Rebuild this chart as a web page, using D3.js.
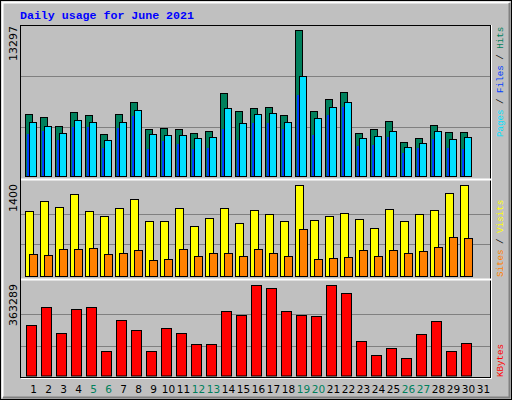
<!DOCTYPE html>
<html><head><meta charset="utf-8">
<script src="https://cdn.jsdelivr.net/npm/d3@7"></script>
<style>body{margin:0;background:#fff}</style>
</head><body>
<script>
var days = d3.range(1, 32);
var weekend = [5, 6, 12, 13, 19, 20, 26, 27];
var hits = [5625,5354,4542,5806,5535,3820,5625,6708,4272,4362,4272,3911,4091,7520,5896,6167,6257,5535,13297,5896,6979,7611,3911,4272,4994,3098,3459,4633,4001,4001];
var files = [4903,4542,3911,5084,4903,3279,4903,5986,3820,3730,3730,3459,3549,6167,4813,5625,5715,4903,9054,5264,6257,6708,3459,3640,4091,2647,3008,4091,3369,3549];
var pages = [3820,4091,3279,4452,4452,2557,4362,5445,2467,3189,2918,2467,2557,4272,3279,4813,4813,4272,7340,3730,5535,6257,2737,2828,3549,2106,2557,3369,2557,2467];
var visits = [989,1141,1050,1248,989,913,1035,1172,837,837,1035,761,883,1035,806,1004,943,837,1385,852,913,959,867,730,1020,837,943,1004,1263,1400];
var sites = [335,320,411,411,426,335,350,396,243,259,411,304,350,350,304,411,350,304,715,259,274,289,396,304,396,350,380,441,594,578];
var kbytes = [203600,275460,171660,267470,275460,99800,223560,183640,99800,191620,171660,123760,123760,255500,243520,363289,351310,255500,243520,239530,363289,327360,139720,83830,107790,67870,167670,219570,99800,127750];

var svg = d3.select('body').append('svg').attr('width', 512).attr('height', 400);
var mono = 'Liberation Mono, DejaVu Sans Mono, monospace';

// frame
svg.append('rect').attr('x', 0).attr('y', 0).attr('width', 512).attr('height', 400).attr('fill', '#c0c0c0');
svg.append('rect').attr('x', 0.5).attr('y', 0.5).attr('width', 511).attr('height', 399).attr('fill', 'none').attr('stroke', '#000');
svg.append('path').attr('d', 'M2.5,397.5V2.5H509.5').attr('fill', 'none').attr('stroke', '#fff').attr('stroke-width', 2);
svg.append('path').attr('d', 'M3,397.5H509.5V3').attr('fill', 'none').attr('stroke', '#808080').attr('stroke-width', 2);

svg.append('text').attr('x', 20).attr('y', 19).attr('fill', '#0000ff')
  .attr('font-family', mono).attr('font-weight', 'bold').attr('font-size', 11.6)
  .text('Daily usage for June 2021');

var x = d3.scaleBand().domain(days).range([24, 489]).padding(0);

// panel box
svg.append('rect').attr('x', 20.5).attr('y', 25.5).attr('width', 470).attr('height', 352)
  .attr('fill', 'none').attr('stroke', '#000');
svg.append('path').attr('d', 'M21,378.5H491.5V25').attr('fill', 'none').attr('stroke', '#fff');
svg.append('path').attr('d', 'M21,179.5H491M21,279.5H491').attr('stroke', '#fff').attr('stroke-width', 2);

function panel(base, top, max, grids) {
  var y = d3.scaleLinear().domain([0, max]).range([base, top]);
  grids.forEach(function (g) {
    svg.append('line').attr('x1', 21).attr('x2', 490)
      .attr('y1', Math.round(y(max * g)) + 0.5).attr('y2', Math.round(y(max * g)) + 0.5)
      .attr('stroke', '#808080');
  });
  return y;
}

function bars(data, y, dx, w, fill) {
  svg.append('g').selectAll('rect').data(data).enter().append('rect')
    .attr('x', function (d, i) { return x(i + 1) + dx + 0.5; })
    .attr('y', function (d) { return Math.round(y(d)) + 0.5; })
    .attr('width', w)
    .attr('height', function (d) { return y.range()[0] - Math.round(y(d)); })
    .attr('fill', fill).attr('stroke', '#000');
}

var y1 = panel(176, 29.5, 13297, [0.333, 0.68]);
bars(hits, y1, 1, 7, '#00805c');
bars(files, y1, 5, 7, '#00e0ff');
svg.append('g').selectAll('rect').data(pages).enter().append('rect')
  .attr('x', function (d, i) { return x(i + 1) + 3; })
  .attr('y', function (d) { return Math.round(y1(d)); })
  .attr('width', 2).attr('height', function (d) { return 176 - Math.round(y1(d)); })
  .attr('fill', '#0040ff');

var y2 = panel(276, 184.5, 1400, [0.355, 0.68]);
bars(visits, y2, 1, 8, '#ffff00');
bars(sites, y2, 5, 8, '#ff8000');

var y3 = panel(375.5, 284.5, 363289, [0.32, 0.68]);
bars(kbytes, y3, 2, 10, '#ff0000');

// left max labels
function vlabel(txt, xx, yy) {
  svg.append('text').attr('transform', 'translate(' + xx + ',' + yy + ') rotate(-90)')
    .attr('text-anchor', 'end').attr('font-family', 'DejaVu Sans, sans-serif').attr('font-size', 11)
    .attr('fill', '#000').text(txt);
}
vlabel('13297', 17, 26);
vlabel('1400', 17, 184);
vlabel('363289', 17, 284);

// right legends
function legend(parts, yy) {
  var t = svg.append('text').attr('transform', 'translate(503,' + yy + ') rotate(-90)')
    .attr('font-family', mono).attr('font-size', 9.2);
  parts.forEach(function (p) {
    t.append('tspan').attr('fill', p[1]).text(p[0]);
  });
}
legend([['Pages', '#00e0ff'], [' / ', '#000'], ['Files', '#0040ff'], [' / ', '#000'], ['Hits', '#00805c']], 137);
legend([['Sites', '#ff8000'], [' / ', '#000'], ['Visits', '#ffff00']], 277);
legend([['KBytes', '#ff0000']], 377);

// day labels
svg.append('g').selectAll('text').data(days).enter().append('text')
  .attr('x', function (d) { return x(d) + x.bandwidth() / 2 + 2; })
  .attr('y', 393).attr('text-anchor', 'middle')
  .attr('font-family', 'DejaVu Sans, sans-serif').attr('font-size', 10.5)
  .attr('fill', function (d) { return weekend.indexOf(d) >= 0 ? '#00805c' : '#000'; })
  .text(function (d) { return d; });
</script>
</body></html>
